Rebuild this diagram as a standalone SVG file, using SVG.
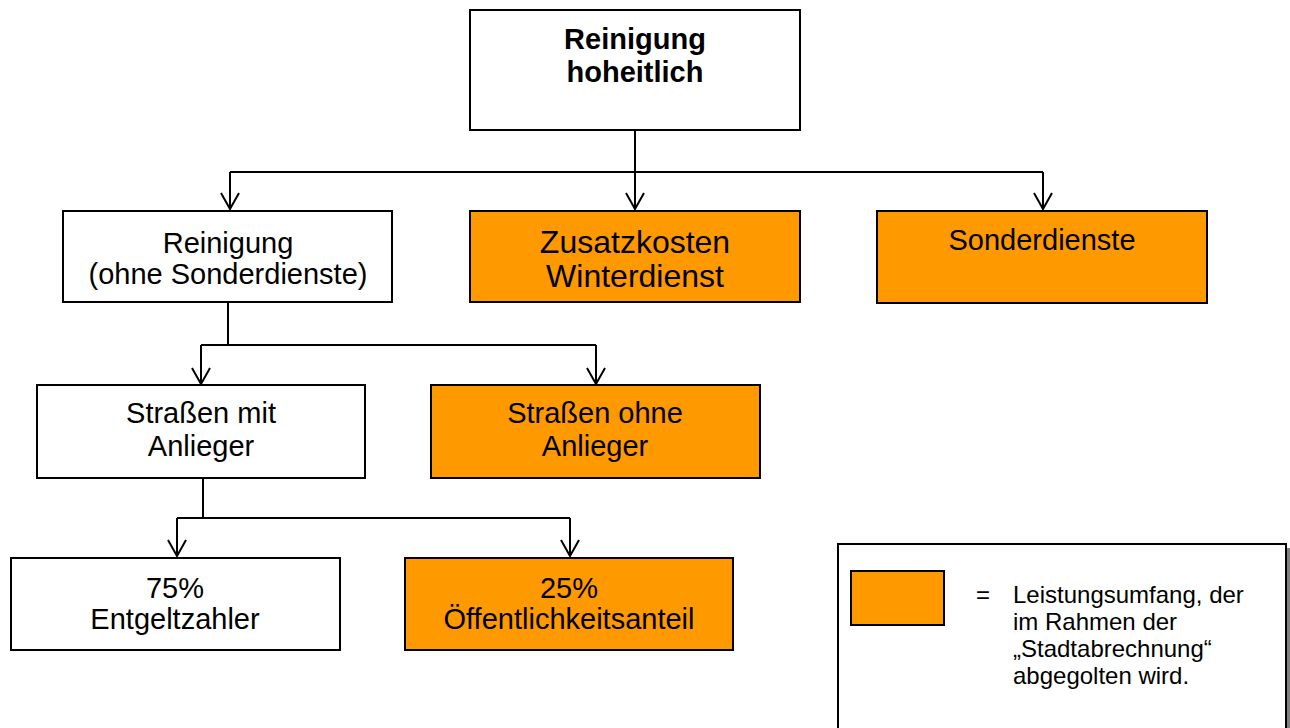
<svg xmlns="http://www.w3.org/2000/svg" width="1290" height="728" viewBox="0 0 1290 728">
<style>
.box{stroke:#000;stroke-width:2;fill:#fff}
.org{fill:#FF9900}
.t{font-family:"Liberation Sans",Arial,sans-serif;fill:#000;text-anchor:middle}
.b{font-weight:bold}
.con{stroke:#000;stroke-width:2;fill:none}
.lg{font-family:"Liberation Sans",Arial,sans-serif;fill:#000;font-size:24px}
</style>
<defs>
<marker id="arr" markerUnits="userSpaceOnUse" markerWidth="20" markerHeight="22" viewBox="-18 -11 20 22" refX="0" refY="0" orient="auto">
<path d="M-16,-9 L0,0 L-16,9" fill="none" stroke="#000" stroke-width="2"/>
</marker>
</defs>
<rect width="1290" height="728" fill="#fff"/>
<g id="connectors">
<path class="con" d="M635,130 V172 M230,172 H1043"/>
<path class="con" d="M230,172 V209" marker-end="url(#arr)"/>
<path class="con" d="M635,172 V209" marker-end="url(#arr)"/>
<path class="con" d="M1043,172 V209" marker-end="url(#arr)"/>
<path class="con" d="M228,302 V345 M201,345 H596"/>
<path class="con" d="M201,345 V384" marker-end="url(#arr)"/>
<path class="con" d="M596,345 V384" marker-end="url(#arr)"/>
<path class="con" d="M203,478 V518 M177,518 H570"/>
<path class="con" d="M177,518 V556" marker-end="url(#arr)"/>
<path class="con" d="M570,518 V556" marker-end="url(#arr)"/>
</g>
<g id="n-top">
<rect class="box" x="470" y="10" width="330" height="120"/>
<text class="t b" font-size="29" x="635" y="49">Reinigung</text>
<text class="t b" font-size="29" x="635" y="82">hoheitlich</text>
</g>
<g id="n-reinigung">
<rect class="box" x="63" y="211" width="329" height="91"/>
<text class="t" font-size="29" x="228" y="253">Reinigung</text>
<text class="t" font-size="29" x="228" y="284">(ohne Sonderdienste)</text>
</g>
<g id="n-winter">
<rect class="box org" x="470" y="211" width="330" height="91"/>
<text class="t" font-size="32" x="635" y="253">Zusatzkosten</text>
<text class="t" font-size="32" x="635" y="287">Winterdienst</text>
</g>
<g id="n-sonder">
<rect class="box org" x="877" y="211" width="330" height="92"/>
<text class="t" font-size="29" x="1042" y="250">Sonderdienste</text>
</g>
<g id="n-mit">
<rect class="box" x="37" y="385" width="328" height="93"/>
<text class="t" font-size="29" x="201" y="423">Straßen mit</text>
<text class="t" font-size="29" x="201" y="456">Anlieger</text>
</g>
<g id="n-ohne">
<rect class="box org" x="431" y="385" width="329" height="93"/>
<text class="t" font-size="29" x="595" y="423">Straßen ohne</text>
<text class="t" font-size="29" x="595" y="456">Anlieger</text>
</g>
<g id="n-75">
<rect class="box" x="11" y="558" width="329" height="92"/>
<text class="t" font-size="29" x="175" y="598">75%</text>
<text class="t" font-size="29" x="175" y="629">Entgeltzahler</text>
</g>
<g id="n-25">
<rect class="box org" x="405" y="558" width="328" height="92"/>
<text class="t" font-size="29" x="569" y="598">25%</text>
<text class="t" font-size="29" x="569" y="629">Öffentlichkeitsanteil</text>
</g>
<g id="legend">
<rect x="842" y="548" width="448" height="200" fill="#808080"/>
<rect class="box" x="838" y="544" width="448" height="200"/>
<rect class="box org" x="851" y="571" width="93" height="54"/>
<text class="lg" x="976" y="603">=</text>
<text class="lg" x="1013" y="603">Leistungsumfang, der</text>
<text class="lg" x="1013" y="630">im Rahmen der</text>
<text class="lg" x="1013" y="657">„Stadtabrechnung“</text>
<text class="lg" x="1013" y="684">abgegolten wird.</text>
</g>
</svg>
